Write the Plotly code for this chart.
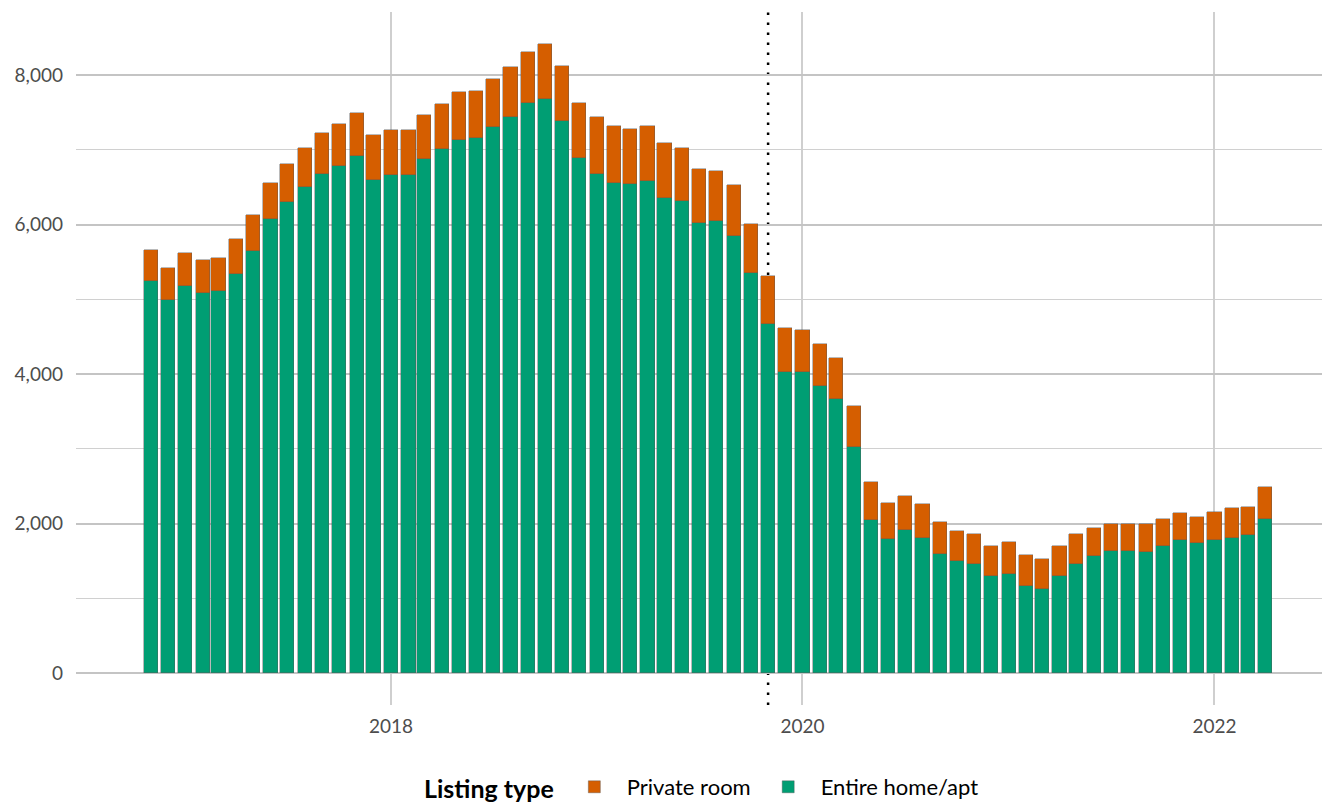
import plotly.graph_objects as go
import pandas as pd

months = pd.date_range("2016-11-01", "2022-04-01", freq="MS")

entire_home = [5245, 4988, 5177, 5080, 5112, 5340, 5650, 6074, 6303, 6502,
               6680, 6785, 6918, 6598, 6667, 6662, 6876, 7006, 7130, 7153,
               7309, 7443, 7622, 7683, 7389, 6894, 6676, 6555, 6546, 6586,
               6359, 6314, 6020, 6047, 5846, 5349, 4673, 4031, 4022, 3839,
               3661, 3023, 2043, 1793, 1909, 1806, 1588, 1494, 1462, 1294,
               1320, 1168, 1128, 1302, 1462, 1565, 1637, 1637, 1623, 1703,
               1775, 1735, 1784, 1810, 1842, 2064]

private_room = [410, 430, 448, 445, 440, 460, 477, 488, 512, 526,
                547, 560, 576, 599, 599, 602, 589, 606, 638, 633,
                637, 660, 690, 727, 736, 728, 758, 767, 727, 727,
                727, 714, 718, 673, 687, 658, 638, 589, 567, 562,
                549, 549, 512, 481, 463, 455, 432, 401, 402, 401,
                428, 415, 397, 397, 398, 379, 356, 352, 366, 361,
                361, 348, 370, 393, 379, 420]

event_date = "2019-11-01"

bar_width_ms = 25.2 * 24 * 3600 * 1000
FONT = "Lato"

fig = go.Figure()
fig.add_trace(go.Bar(
    x=months, y=entire_home, name="Entire home/apt",
    width=bar_width_ms,
    marker=dict(color="#009E73", line=dict(color="rgba(90,90,90,0.7)", width=0.6)),
))
fig.add_trace(go.Bar(
    x=months, y=private_room, name="Private room",
    width=bar_width_ms,
    marker=dict(color="#D55E00", line=dict(color="rgba(90,90,90,0.7)", width=0.6)),
))

fig.add_shape(type="line", xref="x", yref="paper", x0=event_date, x1=event_date,
              y0=0, y1=1, layer="below",
              line=dict(color="black", width=2.5, dash="2.5px,7.5px"))

fig.update_layout(
    width=1322, height=803,
    barmode="stack",
    paper_bgcolor="white", plot_bgcolor="white",
    margin=dict(l=68, r=0, t=4, b=106, autoexpand=False),
    font=dict(family=FONT, size=19, color="#4d4d4d"),
    showlegend=True,
    legend=dict(
        orientation="h", x=0.5, xanchor="center", y=-0.088, yanchor="top",
        traceorder="reversed",
        title=dict(text="<b>Listing type</b>", font=dict(size=25, color="black", family=FONT)),
        font=dict(size=22, color="black", family=FONT),
        itemwidth=55,
    ),
    bargap=0,
)

fig.update_xaxes(
    type="date",
    range=["2016-06-21", "2022-07-25"],
    tick0="2018-01-01", dtick="M24", tickformat="%Y",
    showgrid=True, gridcolor="#cfcfcf", gridwidth=2,
    zeroline=False, showline=False, ticks="",
    ticklabelstandoff=8, automargin=False,
    tickfont=dict(size=19, color="#4d4d4d"),
)
fig.update_yaxes(
    range=[-428, 8843],
    tick0=0, dtick=2000, tickformat=",d",
    showgrid=True, gridcolor="#c4c4c4", gridwidth=1.5,
    minor=dict(dtick=1000, showgrid=True, gridcolor="#d0d0d0", gridwidth=1.3),
    zeroline=False, showline=False, ticks="",
    ticklabelstandoff=12, automargin=False,
    tickfont=dict(size=19, color="#4d4d4d"),
)

fig.write_html("out.html")
